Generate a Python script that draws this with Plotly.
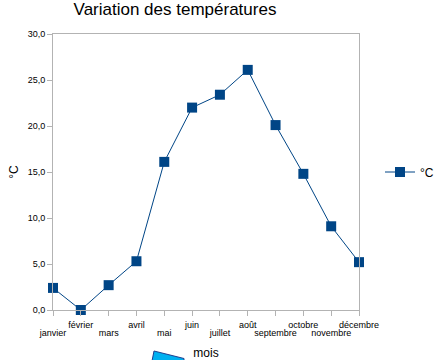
import plotly.graph_objects as go

months = ["janvier", "février", "mars", "avril", "mai", "juin", "juillet",
          "août", "septembre", "octobre", "novembre", "décembre"]
temps = [2.4, 0.0, 2.7, 5.3, 16.1, 22.0, 23.4, 26.1, 20.1, 14.8, 9.1, 5.2]
y_ticks = [0, 5, 10, 15, 20, 25, 30]

idx = list(range(len(months)))
upper_vals = [i for i in idx if i % 2 == 1]
lower_vals = [i for i in idx if i % 2 == 0]

L, R, T, B = 53, 83, 34, 50
W, H = 442, 360
pw, ph = W - L - R, H - T - B

def px(x):
    return (x - L) / pw

def py(y):
    return (H - B - y) / ph

fig = go.Figure()
fig.add_trace(go.Scatter(
    x=idx, y=temps, mode="lines+markers", name="°C", cliponaxis=False,
    line=dict(color="#004586", width=1),
    marker=dict(symbol="square", size=10, color="#004586"),
))
# invisible trace to carry the second (lower-row) category axis
fig.add_trace(go.Scatter(x=idx, y=temps, xaxis="x2", mode="markers",
                         marker=dict(opacity=0), showlegend=False,
                         hoverinfo="skip"))

path = "M {} {} L {} {} L {} {} L {} {} Z".format(
    px(154), py(351), px(184), py(358.5), px(184), py(361), px(152), py(361))

fig.update_layout(
    width=W, height=H,
    margin=dict(l=L, r=R, t=T, b=B, autoexpand=False),
    paper_bgcolor="white", plot_bgcolor="white",
    font=dict(family="Liberation Sans, Arial, sans-serif", color="#000000"),
    separators=",.",
    title=dict(text="Variation des températures", x=175 / W, xanchor="center",
               y=1, yanchor="top", pad=dict(t=3),
               font=dict(size=17, color="#000000")),
    showlegend=True,
    legend=dict(xref="container", x=380 / W, xanchor="left", y=0.5,
                yanchor="middle", font=dict(size=12), itemwidth=30,
                bgcolor="rgba(0,0,0,0)"),
    xaxis=dict(
        range=[0, len(months) - 1], automargin=False,
        tickmode="array", tickvals=upper_vals,
        ticktext=[months[i] for i in upper_vals],
        tickfont=dict(size=9), ticks="", ticklabelstandoff=6,
        showline=True, linecolor="#b3b3b3", linewidth=1, mirror=True,
        showgrid=False, zeroline=False, tickangle=0,
        title=dict(text="mois", font=dict(size=12), standoff=19),
    ),
    xaxis2=dict(
        range=[0, len(months) - 1], automargin=False, overlaying="x",
        side="bottom", anchor="y",
        tickmode="array", tickvals=idx,
        ticktext=[months[i] if i % 2 == 0 else "" for i in idx],
        tickfont=dict(size=9), ticks="outside", ticklen=5, tickcolor="#b3b3b3",
        ticklabelstandoff=9,
        showline=False, showgrid=False, zeroline=False, tickangle=0,
    ),
    yaxis=dict(
        range=[0, 30], automargin=False,
        tickmode="array", tickvals=y_ticks, tickformat=".1f",
        tickfont=dict(size=9), ticks="outside", ticklen=5, tickcolor="#b3b3b3",
        showline=True, linecolor="#b3b3b3", linewidth=1, mirror=True,
        showgrid=False, zeroline=False,
        title=dict(text="°C", font=dict(size=12), standoff=6),
    ),
    shapes=[dict(type="path", xref="paper", yref="paper", path=path,
                 fillcolor="#00b0f0", line=dict(color="#1f3f8f", width=1))],
)

fig.write_html("out.html", config={"displayModeBar": False},
               post_script="document.body.style.margin='0';"
                           "document.body.style.overflow='hidden';")
